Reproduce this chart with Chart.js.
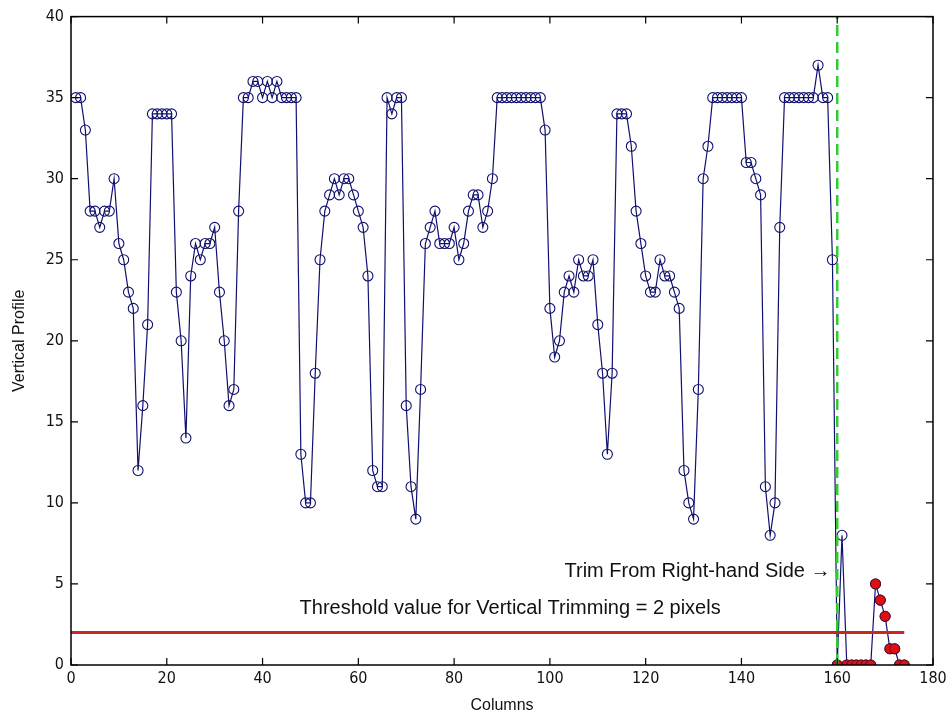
<!DOCTYPE html>
<html>
<head>
<meta charset="utf-8">
<script src="https://cdn.jsdelivr.net/npm/chart.js@4.4.0/dist/chart.umd.min.js"></script>
<style>
  html, body { margin: 0; padding: 0; background: #fff; }
  #wrap { width: 952px; height: 722px; }
</style>
</head>
<body>
<div id="wrap"><canvas id="profile"></canvas></div>
<script>
// vertical profile, one value per column (columns start at 1)
var profile = [
  35, 35, 33, 28, 28, 27, 28, 28, 30, 26, 25, 23, 22, 12, 16, 21, 34, 34, 34, 34,
  34, 23, 20, 14, 24, 26, 25, 26, 26, 27, 23, 20, 16, 17, 28, 35, 35, 36, 36, 35,
  36, 35, 36, 35, 35, 35, 35, 13, 10, 10, 18, 25, 28, 29, 30, 29, 30, 30, 29, 28,
  27, 24, 12, 11, 11, 35, 34, 35, 35, 16, 11, 9, 17, 26, 27, 28, 26, 26, 26, 27,
  25, 26, 28, 29, 29, 27, 28, 30, 35, 35, 35, 35, 35, 35, 35, 35, 35, 35, 33, 22,
  19, 20, 23, 24, 23, 25, 24, 24, 25, 21, 18, 13, 18, 34, 34, 34, 32, 28, 26, 24,
  23, 23, 25, 24, 24, 23, 22, 12, 10, 9, 17, 30, 32, 35, 35, 35, 35, 35, 35, 35,
  31, 31, 30, 29, 11, 8, 10, 27, 35, 35, 35, 35, 35, 35, 35, 37, 35, 35, 25, 0,
  8, 0, 0, 0, 0, 0, 0, 5, 4, 3, 1, 1, 0, 0
];
var trimmedColumns = [160, 162, 163, 164, 165, 166, 167, 168, 169, 170, 171, 172, 173, 174];
var threshold = 2;
var thresholdEnd = 174;
var trimColumn = 160;
var xTicks = [0, 20, 40, 60, 80, 100, 120, 140, 160, 180];
var yTicks = [0, 5, 10, 15, 20, 25, 30, 35, 40];

var mainPoints = profile.map(function (v, i) { return { x: i + 1, y: v }; });
var redPoints = trimmedColumns.map(function (c) { return { x: c, y: profile[c - 1] }; });

var tickFont = { family: "'Liberation Sans Narrow', 'DejaVu Sans Condensed', 'Liberation Sans', sans-serif", size: 16 };
var textFont = "20px 'Liberation Sans', Arial, sans-serif";

// box round the plot with inward ticks, like the original
var boxPlugin = {
  id: 'box',
  afterDatasetsDraw: function (chart) {
    var ctx = chart.ctx, a = chart.chartArea;
    var xs = chart.scales.x, ys = chart.scales.y;
    ctx.save();
    ctx.strokeStyle = '#000';
    ctx.lineWidth = 1.5;
    ctx.strokeRect(a.left, a.top, a.right - a.left, a.bottom - a.top);
    ctx.lineWidth = 1.2;
    ctx.beginPath();
    xTicks.forEach(function (t) {
      var px = xs.getPixelForValue(t);
      ctx.moveTo(px, a.bottom); ctx.lineTo(px, a.bottom - 7);
      ctx.moveTo(px, a.top); ctx.lineTo(px, a.top + 7);
    });
    yTicks.forEach(function (t) {
      var py = ys.getPixelForValue(t);
      ctx.moveTo(a.left, py); ctx.lineTo(a.left + 7, py);
      ctx.moveTo(a.right, py); ctx.lineTo(a.right - 7, py);
    });
    ctx.stroke();

    ctx.fillStyle = '#111';
    ctx.font = textFont;
    ctx.textBaseline = 'middle';
    ctx.textAlign = 'center';
    ctx.fillText('Threshold value for Vertical Trimming = 2 pixels', xs.getPixelForValue(91.7), ys.getPixelForValue(3.5));
    ctx.textAlign = 'right';
    ctx.fillText('Trim From Right-hand Side \u2192', xs.getPixelForValue(158.6), ys.getPixelForValue(5.75));
    ctx.restore();
  }
};

new Chart(document.getElementById('profile'), {
  type: 'scatter',
  data: {
    datasets: [
      {
        label: 'trim',
        data: [{ x: trimColumn, y: 0 }, { x: trimColumn, y: 40 }],
        showLine: true,
        borderColor: '#2ecc2e',
        borderWidth: 2.5,
        borderDash: [11, 6],
        pointRadius: 0,
        order: 0
      },
      {
        label: 'threshold',
        data: [{ x: 0, y: threshold }, { x: thresholdEnd, y: threshold }],
        showLine: true,
        borderColor: '#c42a22',
        borderWidth: 3,
        pointRadius: 0,
        order: 1
      },
      {
        label: 'trimmed',
        data: redPoints,
        showLine: false,
        pointRadius: 5,
        pointBackgroundColor: '#e01010',
        pointBorderColor: '#5a0a2a',
        pointBorderWidth: 1,
        order: 2
      },
      {
        label: 'profile',
        data: mainPoints,
        showLine: true,
        borderColor: '#10106e',
        borderWidth: 1.2,
        pointRadius: 5,
        pointBackgroundColor: 'rgba(0,0,0,0)',
        pointBorderColor: '#10106e',
        pointBorderWidth: 1.1,
        order: 3
      }
    ]
  },
  options: {
    responsive: true,
    maintainAspectRatio: false,
    animation: false,
    events: [],
    layout: { padding: { top: 16, right: 19, left: 0, bottom: 0 } },
    plugins: {
      legend: { display: false },
      tooltip: { enabled: false }
    },
    scales: {
      x: {
        type: 'linear',
        min: 0,
        max: 180,
        afterFit: function (s) { s.height = 57; },
        afterBuildTicks: function (s) { s.ticks = xTicks.map(function (v) { return { value: v }; }); },
        grid: { display: false, drawTicks: false },
        border: { display: false },
        ticks: { color: '#111', font: tickFont, padding: 4, maxRotation: 0 },
        title: { display: true, text: 'Columns', color: '#111', font: { family: "'Liberation Sans Narrow', 'Liberation Sans', sans-serif", size: 16 }, padding: { top: 0, bottom: 7 } }
      },
      y: {
        type: 'linear',
        min: 0,
        max: 40,
        afterFit: function (s) { s.width = 71; },
        afterBuildTicks: function (s) { s.ticks = yTicks.map(function (v) { return { value: v }; }); },
        grid: { display: false, drawTicks: false },
        border: { display: false },
        ticks: { color: '#111', font: tickFont, padding: 7 },
        title: { display: true, text: 'Vertical Profile', color: '#111', font: { family: "'Liberation Sans Narrow', 'Liberation Sans', sans-serif", size: 16 }, padding: { top: 10, bottom: 0 } }
      }
    }
  },
  plugins: [boxPlugin]
});
</script>
</body>
</html>
